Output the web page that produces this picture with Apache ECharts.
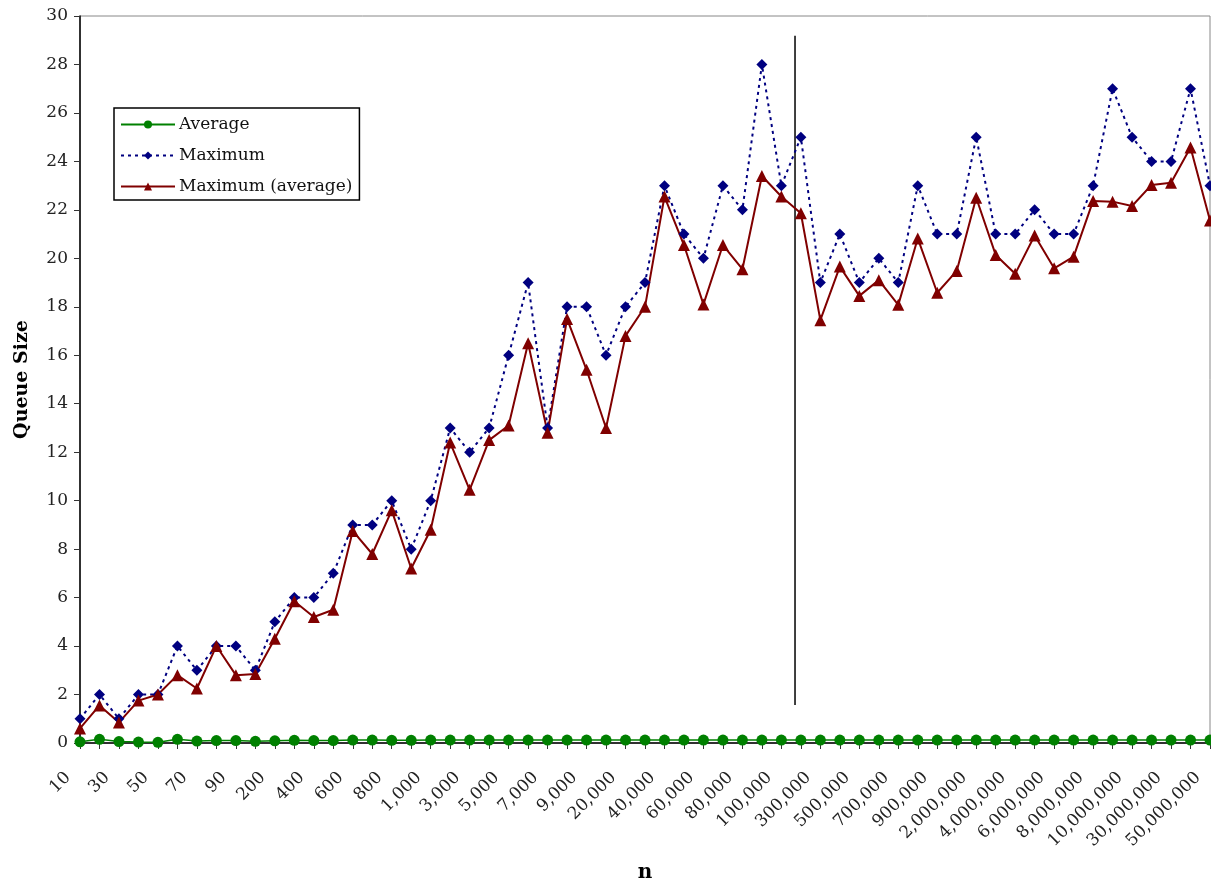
<!DOCTYPE html>
<html>
<head>
<meta charset="utf-8">
<script src="https://cdn.jsdelivr.net/npm/echarts@6/dist/echarts.min.js"></script>
<style>html,body{margin:0;padding:0;background:#fff}#c{width:1211px;height:882px}</style>
</head>
<body>
<div id="c"></div>
<script>
const categories = ["10","20","30","40","50","60","70","80","90",
  "100","200","300","400","500","600","700","800","900",
  "1,000","2,000","3,000","4,000","5,000","6,000","7,000","8,000","9,000",
  "10,000","20,000","30,000","40,000","50,000","60,000","70,000","80,000","90,000",
  "100,000","200,000","300,000","400,000","500,000","600,000","700,000","800,000","900,000",
  "1,000,000","2,000,000","3,000,000","4,000,000","5,000,000","6,000,000","7,000,000","8,000,000","9,000,000",
  "10,000,000","20,000,000","30,000,000","40,000,000","50,000,000"];

const averageValues = [0.05,0.15,0.06,0.04,0.03,0.15,0.08,0.1,0.1,
  0.07,0.09,0.11,0.1,0.1,0.12,0.12,0.11,0.11,
  0.12,0.12,0.12,0.12,0.12,0.12,0.12,0.12,0.12,
  0.12,0.12,0.12,0.12,0.12,0.12,0.12,0.12,0.12,
  0.12,0.12,0.12,0.12,0.12,0.12,0.12,0.12,0.12,
  0.12,0.12,0.12,0.12,0.12,0.12,0.12,0.12,0.12,
  0.12,0.12,0.12,0.12,0.12];

const maximumValues = [1,2,1,2,2,4,3,4,4,
  3,5,6,6,7,9,9,10,8,
  10,13,12,13,16,19,13,18,18,
  16,18,19,23,21,20,23,22,28,
  23,25,19,21,19,20,19,23,21,
  21,25,21,21,22,21,21,23,27,
  25,24,24,27,23];

const maxAverageValues = [0.6,1.55,0.85,1.75,2.0,2.8,2.25,4.0,2.8,
  2.85,4.3,5.85,5.2,5.5,8.75,7.8,9.6,7.2,
  8.8,12.4,10.45,12.5,13.1,16.5,12.8,17.5,15.4,
  13.0,16.8,18.0,22.55,20.55,18.1,20.55,19.55,23.4,
  22.55,21.86,17.45,19.66,18.45,19.1,18.08,20.82,18.58,
  19.48,22.5,20.14,19.36,20.94,19.59,20.07,22.37,22.34,
  22.16,23.03,23.12,24.57,21.56];

// vertical separator line (category-index position, y range)
const separatorLine = [[36.7, 1.57], [36.7, 29.18]];

const FONT = '"DejaVu Serif", "Liberation Serif", serif';

const chart = echarts.init(document.getElementById('c'), null, {renderer: 'canvas'});
chart.setOption({
  animation: false,
  backgroundColor: '#fff',
  textStyle: {fontFamily: FONT},
  grid: {left: 80, right: 1, top: 16, bottom: 139, show: true, borderColor: '#888', borderWidth: 1,
         containLabel: false, outerBoundsMode: 'none'},
  legend: {
    data: ['Average', 'Maximum', 'Maximum (average)'],
    orient: 'vertical',
    left: 114, top: 108,
    backgroundColor: '#fff',
    borderColor: '#000', borderWidth: 1.5,
    padding: [6, 7, 3, 6],
    itemWidth: 54, itemHeight: 10, itemGap: 10,
    textStyle: {fontFamily: FONT, fontSize: 17, lineHeight: 21, color: '#111', padding: [0,0,0,-1]}
  },
  xAxis: [{
    type: 'category',
    data: categories,
    boundaryGap: false,
    name: 'n',
    nameLocation: 'middle',
    nameGap: 120,
    nameTextStyle: {fontFamily: FONT, fontSize: 20, fontWeight: 'bold', color: '#000'},
    axisLine: {onZero: false, lineStyle: {color: '#000', width: 1.5}},
    axisTick: {show: true, interval: 0, length: 6, lineStyle: {color: '#333'}},
    axisLabel: {interval: 1, rotate: 45, margin: 20, padding: [0, 17, 0, 0],
                fontFamily: FONT, fontSize: 17, color: '#222'},
    splitLine: {show: false}
  }, {
    type: 'value', min: 0, max: 58, show: false
  }],
  yAxis: {
    type: 'value', min: 0, max: 30, interval: 2,
    name: 'Queue Size',
    nameLocation: 'middle',
    nameGap: 48,
    nameTextStyle: {fontFamily: FONT, fontSize: 19, fontWeight: 'bold', color: '#000'},
    axisLine: {show: true, lineStyle: {color: '#000', width: 1.5}},
    axisTick: {show: true, length: 6, lineStyle: {color: '#333'}},
    axisLabel: {margin: 12, fontFamily: FONT, fontSize: 17, color: '#222'},
    splitLine: {show: false}
  },
  series: [{
    name: 'Average', type: 'line', data: averageValues,
    symbol: 'circle', symbolSize: 11,
    itemStyle: {color: '#008000'},
    lineStyle: {color: '#008000', width: 1.5},
    z: 4
  }, {
    name: 'Maximum', type: 'line', data: maximumValues,
    symbol: 'diamond', symbolSize: 11,
    itemStyle: {color: '#000080'},
    lineStyle: {color: '#000080', width: 2, type: [3, 4]},
    z: 3
  }, {
    name: 'Maximum (average)', type: 'line', data: maxAverageValues,
    symbol: 'triangle', symbolSize: 12,
    itemStyle: {color: '#800000'},
    lineStyle: {color: '#800000', width: 2},
    z: 3
  }, {
    name: 'sep', type: 'line', xAxisIndex: 1, data: separatorLine,
    symbol: 'none', silent: true,
    lineStyle: {color: '#000', width: 1.5},
    z: 2
  }]
});
</script>
</body>
</html>
